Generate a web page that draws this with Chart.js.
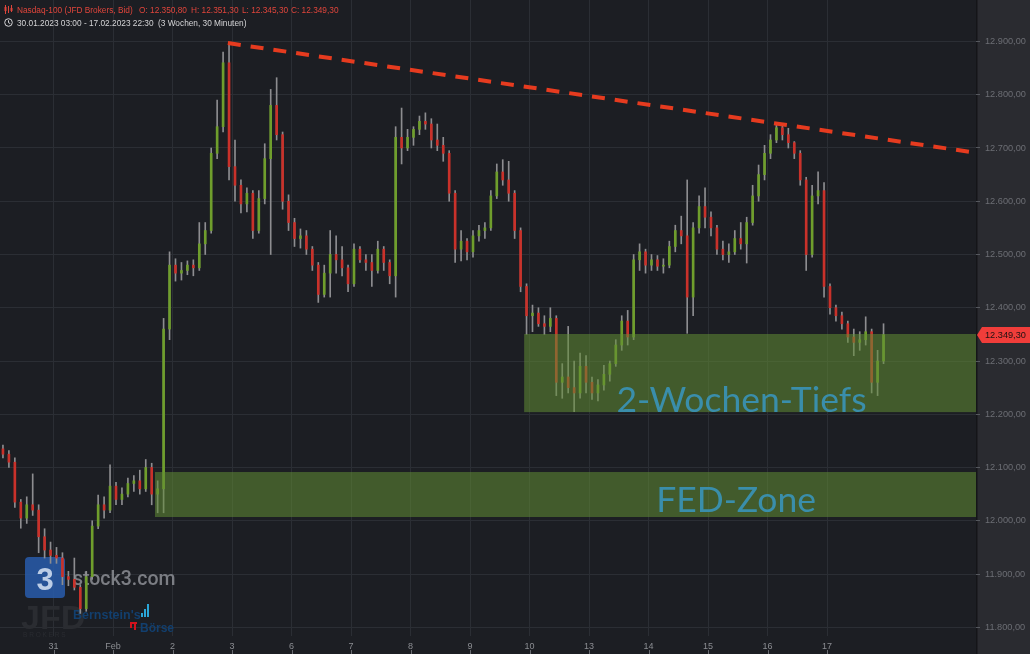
<!DOCTYPE html>
<html><head><meta charset="utf-8">
<script src="https://cdn.jsdelivr.net/npm/chart.js@4.4.0/dist/chart.umd.min.js"></script>
<style>html,body{margin:0;padding:0;background:#1c1e23;overflow:hidden}#wrap{position:relative;width:1030px;height:654px}</style>
</head><body><div id="wrap"><canvas id="c" width="1030" height="654"></canvas></div>
<script>
// ---- data (30-min candles aggregated, 10 per trading day) ----
const dayLabels = ['31','Feb','2','3','6','7','8','9','10','13','14','15','16','17'];
const opens = [
12140,12135,12125,12110,12035,12005,12030,12020,11970,11945,
11935,11930,11895,11890,11875,11835,11895,11990,12030,12020,
12065,12040,12050,12070,12075,12060,12100,12050,12060,12360,
12480,12465,12470,12480,12475,12520,12545,12690,12740,12860,
12665,12630,12595,12615,12545,12605,12680,12780,12725,12600,
12560,12530,12535,12510,12480,12425,12465,12500,12490,12475,
12445,12510,12490,12485,12470,12510,12485,12460,12720,12700,
12720,12735,12750,12745,12715,12705,12690,12615,12510,12525,
12505,12535,12545,12550,12610,12655,12640,12615,12545,12440,
12385,12390,12370,12365,12380,12260,12270,12250,12240,12290,
12260,12240,12255,12275,12295,12330,12375,12345,12490,12505,
12480,12490,12478,12480,12515,12545,12535,12420,12550,12590,
12570,12550,12510,12500,12505,12530,12520,12560,12610,12650,
12690,12715,12738,12725,12710,12690,12640,12500,12610,12620,
12440,12400,12385,12370,12345,12335,12340,12355,12260,12300];
const highs = [
12150,12142,12132,12118,12040,12045,12088,12030,11985,11960,
11950,11940,11905,11930,11880,11905,12000,12048,12045,12105,
12072,12062,12080,12085,12095,12115,12108,12075,12380,12505,
12492,12485,12488,12490,12560,12560,12700,12790,12880,12897,
12715,12640,12625,12620,12620,12708,12810,12832,12730,12612,
12568,12548,12545,12515,12485,12480,12545,12535,12515,12480,
12520,12515,12500,12500,12525,12515,12490,12740,12775,12735,
12740,12760,12766,12755,12745,12720,12695,12620,12545,12530,
12545,12555,12560,12620,12670,12678,12675,12620,12550,12445,
12405,12400,12385,12400,12385,12295,12365,12300,12315,12310,
12270,12265,12292,12300,12340,12385,12395,12500,12520,12510,
12500,12498,12492,12525,12555,12572,12640,12560,12610,12625,
12580,12555,12525,12520,12545,12560,12570,12630,12668,12705,
12725,12747,12742,12737,12712,12695,12645,12630,12655,12635,
12445,12405,12392,12375,12360,12355,12383,12360,12320,12370];
const lows = [
12125,12118,12100,12025,11986,11995,12010,11940,11930,11920,
11920,11880,11878,11870,11826,11830,11890,11985,12005,12015,
12030,12030,12045,12055,12050,12055,12030,12015,12015,12340,
12450,12452,12462,12460,12470,12500,12540,12680,12730,12640,
12600,12578,12580,12530,12540,12595,12500,12715,12585,12545,
12515,12512,12500,12470,12410,12420,12420,12465,12460,12430,
12440,12485,12470,12440,12465,12470,12445,12420,12670,12695,
12705,12725,12735,12700,12695,12675,12600,12485,12488,12490,
12495,12525,12530,12545,12605,12630,12600,12530,12430,12350,
12355,12365,12350,12355,12235,12230,12240,12205,12230,12240,
12228,12225,12245,12262,12290,12320,12330,12340,12470,12465,
12470,12470,12465,12475,12505,12520,12352,12385,12540,12550,
12535,12500,12490,12485,12500,12510,12484,12555,12600,12640,
12680,12710,12715,12700,12680,12630,12470,12495,12595,12420,
12388,12375,12360,12335,12310,12320,12330,12240,12235,12295];
const closes = [
12135,12125,12110,12035,12005,12030,12020,11970,11945,11935,
11930,11895,11890,11875,11835,11895,11990,12030,12020,12065,
12040,12050,12070,12075,12060,12100,12050,12060,12360,12480,
12465,12470,12480,12475,12520,12545,12690,12740,12860,12665,
12630,12595,12615,12545,12605,12680,12780,12725,12600,12560,
12530,12535,12510,12480,12425,12465,12500,12490,12475,12445,
12510,12490,12485,12470,12510,12485,12460,12720,12700,12720,
12735,12750,12745,12715,12705,12690,12615,12510,12525,12505,
12535,12545,12550,12610,12655,12640,12615,12545,12440,12385,
12390,12370,12365,12380,12260,12270,12250,12240,12290,12260,
12240,12255,12275,12295,12330,12375,12345,12490,12505,12480,
12490,12478,12480,12515,12545,12535,12420,12550,12590,12570,
12550,12510,12500,12505,12530,12520,12560,12610,12650,12690,
12715,12738,12725,12710,12690,12640,12500,12610,12620,12440,
12400,12385,12370,12345,12335,12340,12355,12260,12300,12349.3];
const priceTicks = [11800,11900,12000,12100,12200,12300,12400,12500,12600,12700,12800,12900];
// last 30-min bar shown in the header
const lastBar = {o:12350.8, h:12351.3, l:12345.3, c:12349.3};
// annotations (candle index / price units)
const zoneLabels = ['2-Wochen-Tiefs','FED-Zone'];
const zoneStartIdx = [88.6, 26.55];
const zoneLow = [12204, 12007];
const zoneHigh = [12350.7, 12091.5];
const zoneLabelIdx = [104.1, 110.8];
const zoneLabelPrice = [12205, 12016];
const trendIdx = [38.8, 131.6];
const trendPrice = [12897, 12745];

function fmt(v){
  const s = v.toFixed(2).split('.');
  return s[0].replace(/\B(?=(\d{3})+(?!\d))/g,'.') + ',' + s[1];
}

const idx = closes.map((_,i)=>i);
const wickData = idx.map(i=>({x:i, y:[lows[i], highs[i]]}));
const bodyData = idx.map(i=>({x:i, y:[Math.min(opens[i],closes[i]), Math.max(opens[i],closes[i])]}));
const bodyColors = idx.map(i=> closes[i] >= opens[i] ? '#6f9e2c' : '#c9312a');

const deco = {
  id:'deco',
  beforeDraw(chart){
    const {ctx, chartArea:a} = chart;
    ctx.save();
    ctx.fillStyle='#1c1e23'; ctx.fillRect(0,0,chart.width,chart.height);
    ctx.fillStyle='#2a2b30'; ctx.fillRect(a.right,0,chart.width-a.right,chart.height);
    ctx.fillStyle='#141518'; ctx.fillRect(a.right,0,1.5,chart.height);
    ctx.restore();
  },
  beforeDatasetsDraw(chart){
    const ctx = chart.ctx;
    ctx.save();
    ctx.fillStyle='rgba(40,92,172,0.85)';
    ctx.beginPath(); ctx.roundRect(25,557,40,41,4); ctx.fill();
    ctx.fillStyle='rgba(205,218,238,0.9)';
    ctx.font='bold 31px "Liberation Sans"'; ctx.textAlign='center'; ctx.textBaseline='alphabetic';
    ctx.fillText('3',45,590);
    ctx.textAlign='left';
    ctx.fillStyle='rgba(140,142,148,0.85)';
    ctx.font='500 19.5px Roboto';
    ctx.fillText('stock3.com',73,585);
    ctx.fillStyle='#2a2c31';
    ctx.font='bold 34px "Liberation Sans"';
    ctx.fillText('JFD',21,629);
    ctx.font='6.5px "Liberation Sans"';
    ctx.fillText('B R O K E R S',23,637);
    ctx.fillStyle='#123f6e';
    ctx.font='bold 12.5px "Liberation Sans"';
    ctx.fillText("Bernstein's",73,619);
    ctx.fillStyle='#2aa6d8';
    ctx.fillRect(141,613,2,4); ctx.fillRect(144,609,2,8); ctx.fillRect(147,604,2,13);
    ctx.fillStyle='#d3121c';
    ctx.fillRect(130,622,7,2); ctx.fillRect(130,622,2,6); ctx.fillRect(134,622,2,8);
    ctx.fillStyle='#123f6e';
    ctx.font='bold 12px "Liberation Sans"';
    ctx.fillText('Börse',140,632);
    ctx.restore();
  },
  afterDatasetsDraw(chart){
    const {ctx, chartArea:a, scales:{x,y}} = chart;
    ctx.save();
    ctx.beginPath(); ctx.rect(a.left,a.top,a.right-a.left,a.bottom-a.top); ctx.clip();
    for(let k=0;k<zoneLabels.length;k++){
      const x0 = x.getPixelForValue(zoneStartIdx[k]);
      const y0 = y.getPixelForValue(zoneHigh[k]);
      const y1 = y.getPixelForValue(zoneLow[k]);
      ctx.fillStyle='rgba(98,142,52,0.55)';
      ctx.fillRect(x0,y0,a.right-x0,y1-y0);
    }
    for(let k=0;k<zoneLabels.length;k++){
      ctx.fillStyle='#3a8eab';
      ctx.font='35.5px Lato';
      ctx.textBaseline='alphabetic'; ctx.textAlign='left';
      ctx.fillText(zoneLabels[k], x.getPixelForValue(zoneLabelIdx[k]), y.getPixelForValue(zoneLabelPrice[k]));
    }
    const px0 = x.getPixelForValue(trendIdx[0]), py0 = y.getPixelForValue(trendPrice[0]);
    const px1 = x.getPixelForValue(trendIdx[1]), py1 = y.getPixelForValue(trendPrice[1]);
    const slope = (py1-py0)/(px1-px0);
    ctx.strokeStyle='#e63b1f'; ctx.lineWidth=4; ctx.setLineDash([13,10]);
    ctx.beginPath(); ctx.moveTo(px0,py0); ctx.lineTo(a.right, py0 + slope*(a.right-px0)); ctx.stroke();
    ctx.restore();
    ctx.save();
    const last = closes[closes.length-1];
    const ly = Math.round(y.getPixelForValue(last));
    ctx.fillStyle='#f03d3a';
    ctx.beginPath();
    ctx.moveTo(a.right+1, ly); ctx.lineTo(a.right+6, ly-8); ctx.lineTo(chart.width, ly-8);
    ctx.lineTo(chart.width, ly+8); ctx.lineTo(a.right+6, ly+8); ctx.closePath(); ctx.fill();
    ctx.fillStyle='#1d1212';
    ctx.font='9.2px "Liberation Sans"'; ctx.textBaseline='middle'; ctx.textAlign='left';
    ctx.fillText(fmt(last), a.right+9, ly+0.5);
    ctx.restore();
  },
  afterDraw(chart){
    const {ctx, scales:{x}} = chart;
    ctx.save();
    ctx.fillStyle='#6a6c72';
    x.ticks.forEach(t=>{ const px=Math.round(x.getPixelForValue(t.value)); ctx.fillRect(px,650,1,4); });
    // header
    ctx.strokeStyle='#e0453b'; ctx.lineWidth=1;
    ctx.beginPath();
    ctx.moveTo(5.5,5); ctx.lineTo(5.5,14); ctx.moveTo(8.5,6); ctx.lineTo(8.5,13); ctx.moveTo(11.5,5); ctx.lineTo(11.5,12);
    ctx.stroke();
    ctx.fillStyle='#e0453b'; ctx.fillRect(4.5,7,2,4); ctx.fillRect(10.5,8,2,3);
    ctx.font='8.3px "Liberation Sans"'; ctx.textBaseline='alphabetic'; ctx.textAlign='left';
    ctx.fillText('Nasdaq-100 (JFD Brokers, Bid)',17,13);
    ctx.fillText('O: '+fmt(lastBar.o),139,13);
    ctx.fillText('H: '+fmt(lastBar.h),191,13);
    ctx.fillText('L: '+fmt(lastBar.l),242,13);
    ctx.fillText('C: '+fmt(lastBar.c),291,13);
    ctx.strokeStyle='#d4d4d6'; ctx.beginPath(); ctx.arc(8.5,22.5,3.8,0,Math.PI*2); ctx.stroke();
    ctx.beginPath(); ctx.moveTo(8.5,20.3); ctx.lineTo(8.5,22.7); ctx.lineTo(10.3,23.6); ctx.stroke();
    ctx.fillStyle='#d4d4d6';
    ctx.fillText('30.01.2023 03:00 - 17.02.2023 22:30',17,26);
    ctx.fillText('(3 Wochen, 30 Minuten)',158,26);
    ctx.restore();
  }
};

new Chart(document.getElementById('c'), {
  type:'bar',
  data:{ datasets:[
    { label:'body', data: bodyData, backgroundColor: bodyColors, barThickness:2, grouped:false, order:0, minBarLength:1, borderWidth:0 },
    { label:'wick', data: wickData, backgroundColor:'#8d8d90', barThickness:1, grouped:false, order:1, borderWidth:0 }
  ]},
  options:{
    responsive:false, animation:false, devicePixelRatio:1,
    layout:{padding:0},
    plugins:{legend:{display:false}, tooltip:{enabled:false}},
    scales:{
      x:{ type:'linear', min:0.504, max:164.54, offset:false,
          grid:{ color:'#2b2e34', offset:false, drawTicks:false },
          border:{display:false},
          afterBuildTicks(s){ s.ticks = dayLabels.map((l,k)=>({value:(k+1)*10-0.5})); },
          afterFit(s){ s.height = 18; s.paddingLeft = 0; s.paddingRight = 0; },
          ticks:{ autoSkip:false, maxRotation:0, padding:5, color:'#8b8d92', font:{size:9, family:'"Liberation Sans"'},
                  callback:(v,i)=>dayLabels[i] } },
      y:{ position:'right', min:11783.6, max:12977.9,
          grid:{ color:'#2b2e34', tickLength:4, tickColor:'#55585e' },
          border:{display:false},
          afterBuildTicks(s){ s.ticks = priceTicks.map(v=>({value:v})); },
          afterFit(s){ s.width = 54; s.paddingTop = 0; s.paddingBottom = 0; },
          ticks:{ padding:5, color:'#6c6e74', font:{size:9.2, family:'"Liberation Sans"'}, callback:(v)=>fmt(v) } }
    }
  },
  plugins:[deco]
});
</script></body></html>
